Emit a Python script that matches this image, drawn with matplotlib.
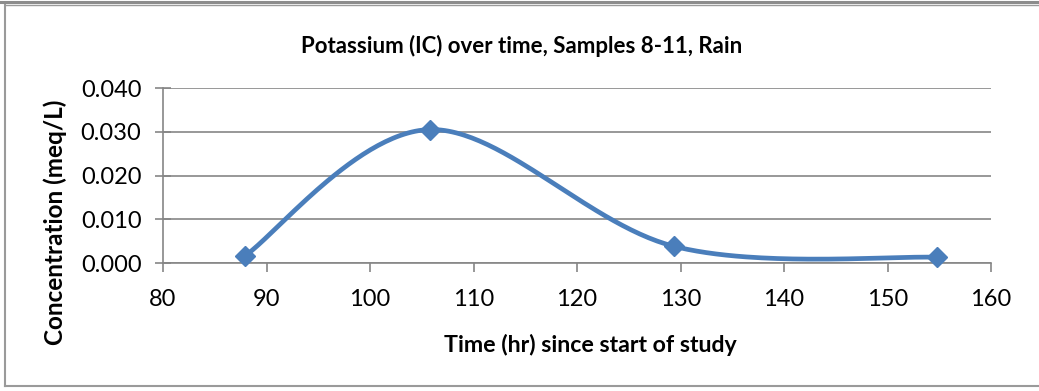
import numpy as np
import matplotlib
matplotlib.use("Agg")
import matplotlib.pyplot as plt
from matplotlib.lines import Line2D

# Sample data
time_hr = [87.9, 105.8, 129.4, 154.8]
conc_meq = [0.0016, 0.0305, 0.0038, 0.0013]

x_ticks = [80, 90, 100, 110, 120, 130, 140, 150, 160]
y_ticks = [0.000, 0.010, 0.020, 0.030, 0.040]
y_tick_labels = ["0.000", "0.010", "0.020", "0.030", "0.040"]

title = "Potassium (IC) over time, Samples 8-11, Rain"
x_label = "Time (hr) since start of study"
y_label = "Concentration (meq/L)"

line_color = "#4A7EBB"
grid_color = "#868686"
font = ["Lato", "DejaVu Sans"]


def smooth_curve(xs, ys, n=60):
    """Cubic Bezier smoothing through the points (Catmull-Rom style tangents)."""
    pts = np.column_stack([xs, ys]).astype(float)
    ext = np.vstack([pts[0], pts, pts[-1]])
    out = []
    t = np.linspace(0, 1, n)[:, None]
    for i in range(len(pts) - 1):
        p0, p1 = ext[i + 1], ext[i + 2]
        c1 = p0 + (ext[i + 2] - ext[i]) / 6.0
        c2 = p1 - (ext[i + 3] - ext[i + 1]) / 6.0
        seg = ((1 - t) ** 3) * p0 + 3 * ((1 - t) ** 2) * t * c1 \
            + 3 * (1 - t) * t ** 2 * c2 + t ** 3 * p1
        out.append(seg if i == 0 else seg[1:])
    curve = np.vstack(out)
    return curve[:, 0], curve[:, 1]


W, H = 1039, 391
fig = plt.figure(figsize=(W / 100, H / 100), dpi=100)
fig.patch.set_facecolor("white")

# outer chart frame
fig.add_artist(Line2D([0, 1], [1 - 1.5 / H, 1 - 1.5 / H], color="#8c8c8c", lw=2.2,
                      transform=fig.transFigure))
fig.add_artist(Line2D([4.5 / W, 4.5 / W], [1 - 5 / H, 1 - 386 / H], color="#9a9a9a", lw=1.5,
                      transform=fig.transFigure))
fig.add_artist(Line2D([4.5 / W, 1], [1 - 386 / H, 1 - 386 / H], color="#9a9a9a", lw=1.5,
                      transform=fig.transFigure))
fig.add_artist(Line2D([4.5 / W, 1], [1 - 5 / H, 1 - 5 / H], color="#9a9a9a", lw=1.0,
                      transform=fig.transFigure))

ax = fig.add_axes([163 / W, 1 - 263 / H, (991 - 163) / W, (263 - 88) / H])
ax.set_xlim(80, 160)
ax.set_ylim(0, 0.040)

for spine in ["top", "right"]:
    ax.spines[spine].set_visible(False)
for spine in ["left", "bottom"]:
    ax.spines[spine].set_color(grid_color)
    ax.spines[spine].set_linewidth(1.2)

ax.set_yticks(y_ticks)
ax.set_yticklabels(y_tick_labels)
ax.set_xticks(x_ticks)
ax.yaxis.grid(True, color=grid_color, linewidth=1.2)
ax.set_axisbelow(True)
ax.tick_params(axis="y", direction="inout", length=11, width=1.2, color=grid_color,
               labelsize=17, pad=10)
ax.tick_params(axis="x", direction="out", length=6.5, width=1.2, color=grid_color,
               labelsize=17, pad=12)
for lbl in ax.get_xticklabels() + ax.get_yticklabels():
    lbl.set_fontfamily(font)

sx, sy = smooth_curve(time_hr, conc_meq)
ax.plot(sx, sy, color=line_color, lw=3.4, solid_capstyle="round", zorder=3, clip_on=False)
ax.plot(time_hr, conc_meq, linestyle="none", marker="D", markersize=10,
        color=line_color, zorder=4, clip_on=False)

fig.text(522 / W, 1 - 46 / H, title, ha="center", va="center", fontsize=16,
         fontweight="bold", family=font)
fig.text(590 / W, 1 - 345 / H, x_label, ha="center", va="center", fontsize=16.7,
         fontweight="bold", family=font)
fig.text(55 / W, 1 - 222 / H, y_label, ha="center", va="center", rotation=90,
         fontsize=17.5, fontweight="bold", family=font)

fig.savefig("out.png", dpi=100, facecolor="white")
